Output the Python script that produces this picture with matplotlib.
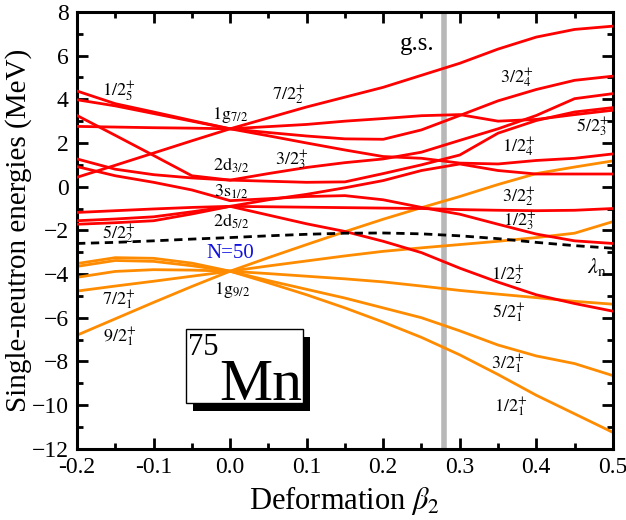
import matplotlib
matplotlib.use("Agg")
import matplotlib.pyplot as plt
from matplotlib.patches import Rectangle
from matplotlib.ticker import MultipleLocator

plt.rcParams['font.family'] = ['Liberation Serif', 'DejaVu Serif']
plt.rcParams['mathtext.fontset'] = 'stix'

# deformation grid
beta = [-0.2, -0.15, -0.1, -0.05, 0.0, 0.05, 0.1, 0.15, 0.2, 0.25, 0.3, 0.35, 0.4, 0.45, 0.5]

# positive-parity levels above N=50 (red)
red_g72_72 = [0.43, 0.98, 1.54, 2.10, 2.65, 3.15, 3.65, 4.10, 4.55, 5.10, 5.65, 6.30, 6.85, 7.20, 7.35]
red_g72_52 = [2.76, 2.73, 2.70, 2.68, 2.65, 2.75, 2.85, 3.00, 3.12, 3.25, 3.30, 3.00, 3.08, 3.30, 3.50]
red_g72_32 = [3.98, 3.70, 3.35, 3.00, 2.65, 2.48, 2.32, 2.19, 2.17, 2.60, 3.26, 3.93, 4.45, 4.87, 5.06]
red_g72_12 = [4.38, 3.80, 3.42, 3.03, 2.65, 2.33, 2.00, 1.68, 1.38, 1.30, 1.08, 1.04, 1.20, 1.30, 1.50]
red_d32_32 = [1.27, 0.80, 0.55, 0.40, 0.30, 0.60, 0.88, 1.10, 1.27, 1.58, 2.12, 2.65, 3.26, 4.03, 4.26]
red_d32_12 = [3.26, 2.35, 1.43, 0.50, 0.30, 0.25, 0.20, 0.22, 0.60, 1.00, 1.45, 2.45, 3.03, 3.42, 3.62]
red_d52_52 = [-1.72, -1.65, -1.56, -1.25, -0.90, -0.60, -0.35, -0.05, 0.28, 0.74, 1.04, 0.74, 0.58, 0.58, 0.58]
red_s12_12 = [0.92, 0.50, 0.20, -0.15, -0.64, -0.55, -0.45, -0.41, -0.60, -0.95, -1.26, -1.72, -2.17, -2.48, -2.60]
red_d52_32 = [-1.56, -1.48, -1.38, -1.15, -0.90, -0.92, -0.94, -0.96, -0.98, -1.00, -1.05, -1.08, -1.10, -1.08, -1.00]
red_d52_12 = [-1.18, -1.10, -1.02, -0.95, -0.90, -1.30, -1.70, -2.05, -2.50, -3.02, -3.73, -4.37, -4.95, -5.35, -5.70]

# 1g9/2 levels (orange)
org_92 = [-6.80, -6.05, -5.30, -4.57, -3.87, -3.25, -2.65, -2.06, -1.49, -0.96, -0.45, 0.10, 0.60, 0.90, 1.18]
org_72 = [-4.78, -4.55, -4.33, -4.10, -3.87, -3.63, -3.40, -3.17, -2.96, -2.80, -2.65, -2.50, -2.33, -2.13, -1.60]
org_52 = [-4.15, -3.88, -3.80, -3.82, -3.87, -3.98, -4.10, -4.22, -4.36, -4.55, -4.75, -4.92, -5.08, -5.25, -5.38]
org_32 = [-3.65, -3.38, -3.42, -3.62, -3.87, -4.30, -4.70, -5.10, -5.55, -6.00, -6.60, -7.25, -7.75, -8.10, -8.65]
org_12 = [-3.52, -3.25, -3.28, -3.50, -3.87, -4.40, -4.95, -5.55, -6.20, -6.90, -7.70, -8.60, -9.55, -10.40, -11.25]

# Fermi level
lambda_n = [-2.60, -2.55, -2.48, -2.40, -2.33, -2.25, -2.18, -2.13, -2.12, -2.16, -2.25, -2.38, -2.55, -2.70, -2.82]

beta_gs = 0.28

red_lines = [red_g72_72, red_g72_52, red_g72_32, red_g72_12, red_d32_32,
             red_d32_12, red_d52_52, red_s12_12, red_d52_32, red_d52_12]
orange_lines = [org_92, org_72, org_52, org_32, org_12]

# (text, beta, energy) for the level labels
labels = [
    (r'$1/2^{+}_{5}$', -0.145, 4.32), (r'$\mathrm{1g}_{7/2}$', 0.0, 3.26),
    (r'$7/2^{+}_{2}$', 0.077, 4.18), (r'$\mathrm{2d}_{3/2}$', 0.001, 0.97),
    (r'$3/2^{+}_{3}$', 0.081, 1.2), (r'$\mathrm{3s}_{1/2}$', 0.001, -0.23),
    (r'$\mathrm{2d}_{5/2}$', 0.001, -1.6), (r'$5/2^{+}_{2}$', -0.145, -2.2),
    (r'$\mathrm{1g}_{9/2}$', 0.002, -4.74), (r'$7/2^{+}_{1}$', -0.145, -5.2),
    (r'$9/2^{+}_{1}$', -0.144, -6.9), (r'$3/2^{+}_{4}$', 0.374, 4.97),
    (r'$5/2^{+}_{3}$', 0.473, 2.71), (r'$1/2^{+}_{4}$', 0.377, 1.8),
    (r'$3/2^{+}_{2}$', 0.377, -0.5), (r'$1/2^{+}_{3}$', 0.378, -1.56),
    (r'$1/2^{+}_{2}$', 0.363, -4.05), (r'$5/2^{+}_{1}$', 0.364, -5.8),
    (r'$3/2^{+}_{1}$', 0.363, -8.14), (r'$1/2^{+}_{1}$', 0.367, -10.1),
]

fig = plt.figure(figsize=(6.26, 5.2), dpi=100)
ax = fig.add_axes([0.123, 0.137, 0.856, 0.84])

ax.axvline(beta_gs, color='#b8b8b8', lw=4, zorder=1)
for e in orange_lines:
    ax.plot(beta, e, color='#ff8c00', lw=2, zorder=2)
for e in red_lines:
    ax.plot(beta, e, color='#ff0000', lw=2, zorder=3)
ax.plot(beta, lambda_n, color='black', lw=2, ls=(0, (3, 2)), zorder=4)

for txt, b, e in labels:
    ax.text(b, e, txt, fontsize=13, ha='center', va='center', zorder=5)
ax.text(0.0, -3.06, 'N=50', color='#1010e0', fontsize=15, ha='center', va='center')
ax.text(0.2445, 6.53, 'g.s.', fontsize=18, ha='center', va='center')
ax.text(0.479, -3.68, r'$\lambda_\mathrm{n}$', fontsize=16, ha='center', va='center')

# nucleus box with shadow
ax.add_patch(Rectangle((-0.048, -10.29), 0.152, 3.4, facecolor='black',
                       edgecolor='none', zorder=6))
ax.add_patch(Rectangle((-0.057, -9.92), 0.152, 3.4, facecolor='white',
                       edgecolor='black', lw=1, zorder=7))
ax.text(-0.055, -6.7, '75', fontsize=22, ha='left', va='top', zorder=8)
ax.text(0.094, -9.75, 'Mn', fontsize=43, ha='right', va='baseline', zorder=8)

ax.set_xlim(-0.2, 0.5)
ax.set_ylim(-12, 8)
ax.xaxis.set_major_locator(MultipleLocator(0.1))
ax.xaxis.set_minor_locator(MultipleLocator(0.05))
ax.yaxis.set_major_locator(MultipleLocator(2))
ax.yaxis.set_minor_locator(MultipleLocator(1))
ax.set_xticklabels([f'{v:.1f}' for v in ax.get_xticks()])
ax.tick_params(which='both', direction='in', top=True, right=True, labelsize=17, width=2)
ax.tick_params(which='major', length=8, pad=6)
ax.tick_params(which='minor', length=4)
for s in ax.spines.values():
    s.set_linewidth(2.2)

ax.set_xlabel(r'Deformation $\beta_2$', fontsize=22, labelpad=4)
ax.set_ylabel('Single-neutron energies (MeV)', fontsize=21, labelpad=0)

fig.savefig('out.png', dpi=100)
